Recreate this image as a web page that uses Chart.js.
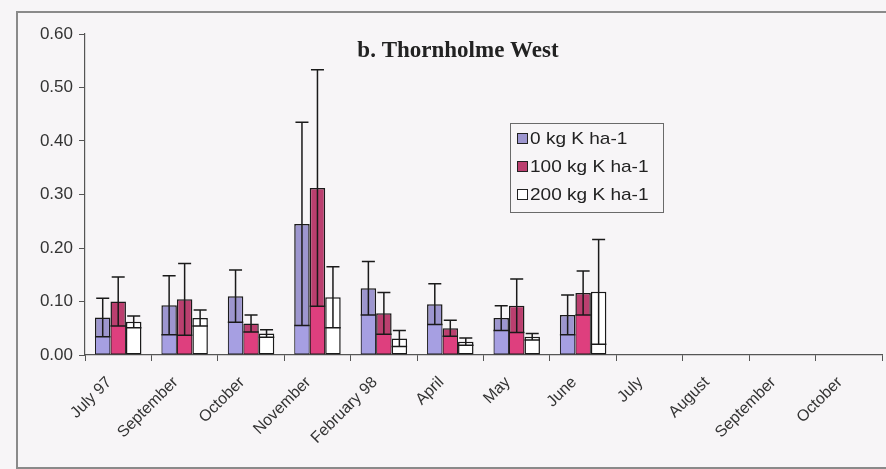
<!DOCTYPE html>
<html>
<head>
<meta charset="utf-8">
<script src="https://cdn.jsdelivr.net/npm/chart.js@4"></script>
<style>
  html, body { margin: 0; padding: 0; background: #f7f5f7; }
  #wrap { position: relative; width: 886px; height: 469px; overflow: hidden; }
  #frame { position: absolute; left: 16px; top: 11px; width: 900px; height: 454px;
           border: 2px solid #8a8a8a; }
  canvas { position: absolute; left: 0; top: 0; }
  #legend { position: absolute; left: 510px; top: 123px; width: 152px; height: 88px;
            border: 1px solid #6a6a6a; font: 17px "Liberation Sans", Arial, sans-serif; color: #222; }
  #legend .row { position: absolute; left: 6px; height: 20px; line-height: 20px; white-space: nowrap; }
  #legend .sw { display: inline-block; width: 9px; height: 9px; border: 1.5px solid #222;
                margin-right: 2px; vertical-align: 0px; }
  #legend .tx { display: inline-block; transform: scaleX(1.12); transform-origin: left center; }
</style>
</head>
<body>
<div id="wrap">
  <div id="frame"></div>
  <canvas id="chart" width="886" height="469"></canvas>
  <div id="legend"></div>
</div>
<script>
// sampling dates
const labels = ["July 97", "September", "October", "November", "February 98", "April",
                "May", "June", "July", "August", "September", "October"];

// means and standard errors
const k0 = [0.070, 0.093, 0.110, 0.245, 0.125, 0.095, 0.069, 0.075, null, null, null, null];
const k0Err = [0.036, 0.055, 0.049, 0.190, 0.050, 0.038, 0.023, 0.037, null, null, null, null];
const k100 = [0.100, 0.104, 0.059, 0.312, 0.078, 0.050, 0.092, 0.116, null, null, null, null];
const k100Err = [0.046, 0.067, 0.016, 0.221, 0.039, 0.015, 0.050, 0.041, null, null, null, null];
const k200 = [0.062, 0.069, 0.040, 0.108, 0.031, 0.025, 0.034, 0.118, null, null, null, null];
const k200Err = [0.011, 0.015, 0.007, 0.057, 0.015, 0.007, 0.006, 0.098, null, null, null, null];

const yTicks = [0, 0.1, 0.2, 0.3, 0.4, 0.5, 0.6];

const seriesNames = ["0 kg K ha-1", "100 kg K ha-1", "200 kg K ha-1"];

// error bars (both directions) + the lighter fill under the lower cap
const errorBars = {
  id: "errorBars",
  afterDatasetsDraw(chart) {
    const ctx = chart.ctx;
    const y = chart.scales.y;
    chart.data.datasets.forEach((ds, i) => {
      const meta = chart.getDatasetMeta(i);
      meta.data.forEach((bar, j) => {
        const v = ds.data[j], e = ds.errors[j];
        if (v == null || e == null) return;
        const yHi = y.getPixelForValue(v + e);
        const yLo = y.getPixelForValue(Math.max(v - e, 0));
        const left = bar.x - bar.width / 2, right = bar.x + bar.width / 2;
        ctx.save();
        if (ds.lowerColor) {
          ctx.fillStyle = ds.lowerColor;
          ctx.fillRect(left + 1, yLo, bar.width - 2, bar.base - yLo - 1);
        }
        ctx.strokeStyle = "#1a1a1a";
        ctx.lineWidth = 1.5;
        const cap = bar.width * 0.42;
        ctx.beginPath();
        ctx.moveTo(bar.x, yLo); ctx.lineTo(bar.x, yHi);
        ctx.moveTo(bar.x - cap, yHi); ctx.lineTo(bar.x + cap, yHi);
        ctx.moveTo(left, yLo); ctx.lineTo(right, yLo);
        ctx.stroke();
        ctx.restore();
      });
    });
  }
};

const titleText = {
  id: "titleText",
  afterDraw(chart) {
    const ctx = chart.ctx;
    ctx.save();
    ctx.font = "bold 23px 'Liberation Serif', 'Times New Roman', serif";
    ctx.fillStyle = "#222";
    ctx.textAlign = "center";
    ctx.textBaseline = "middle";
    ctx.fillText("b. Thornholme West", 458, 51);
    ctx.restore();
  }
};

new Chart(document.getElementById("chart").getContext("2d"), {
  type: "bar",
  data: {
    labels: labels,
    datasets: [
      { label: seriesNames[0], data: k0, errors: k0Err,
        backgroundColor: "#9d96cf", lowerColor: "#a69fe2" },
      { label: seriesNames[1], data: k100, errors: k100Err,
        backgroundColor: "#bb3f6f", lowerColor: "#de3f7e" },
      { label: seriesNames[2], data: k200, errors: k200Err,
        backgroundColor: "#ffffff", lowerColor: null }
    ]
  },
  options: {
    responsive: false,
    animation: false,
    datasets: {
      bar: {
        borderColor: "#1a1a1a",
        borderWidth: 1.5,
        borderSkipped: false,
        categoryPercentage: 0.7,
        barPercentage: 1.0
      }
    },
    layout: { padding: { left: 0, top: 34, right: 4, bottom: 0 } },
    plugins: {
      legend: { display: false },
      tooltip: { enabled: false }
    },
    scales: {
      x: {
        afterFit: s => { s.height = 114; },
        grid: { offset: true, drawOnChartArea: false, tickLength: 6, color: "#555" },
        border: { color: "#555", width: 1.2 },
        ticks: {
          autoSkip: false, maxRotation: 45, minRotation: 45, padding: 12, labelOffset: -9,
          color: "#333", font: { family: "'Liberation Sans', Arial, sans-serif", size: 16 }
        }
      },
      y: {
        min: 0, max: 0.6,
        afterFit: s => { s.width = 85; },
        afterBuildTicks: s => { s.ticks = yTicks.map(v => ({ value: v })); },
        grid: { drawOnChartArea: false, tickLength: 6, color: "#555" },
        border: { color: "#555", width: 1.2 },
        ticks: {
          padding: 6, color: "#333",
          font: { family: "'Liberation Sans', Arial, sans-serif", size: 17 },
          callback: v => Number(v).toFixed(2)
        }
      }
    }
  },
  plugins: [errorBars, titleText]
});

// legend box
const swatches = ["#9d96cf", "#bb3f6f", "#ffffff"];
const legend = document.getElementById("legend");
seriesNames.forEach((name, i) => {
  const row = document.createElement("div");
  row.className = "row";
  row.style.top = (5 + i * 28) + "px";
  row.innerHTML = '<span class="sw" style="background:' + swatches[i] + '"></span>' +
                  '<span class="tx">' + name + '</span>';
  legend.appendChild(row);
});
</script>
</body>
</html>
